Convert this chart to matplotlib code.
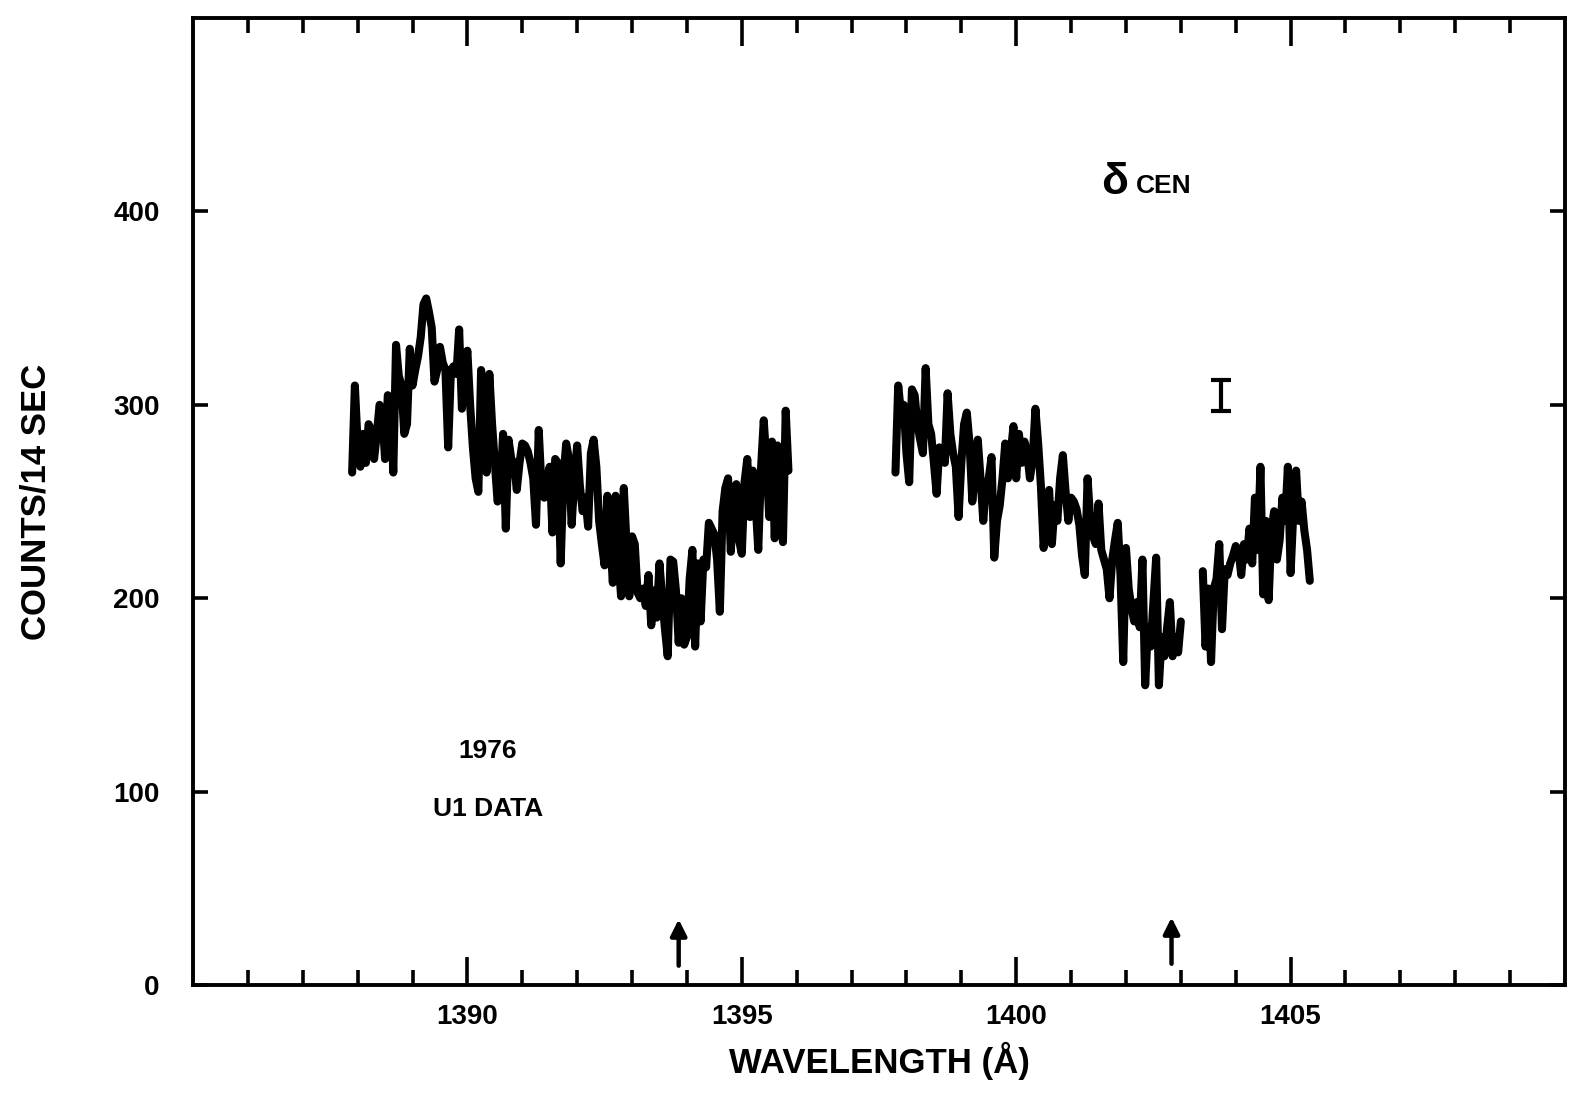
import matplotlib
matplotlib.use("Agg")
import matplotlib.pyplot as plt
import numpy as np

plt.rcParams["font.family"] = ["Liberation Sans", "DejaVu Sans"]

# --- spectrum data (counts per 14 s), sampled every 0.05 A ---
step = 0.05

seg1_start = 1387.90
seg1_counts = [
    265, 310, 280, 268, 285, 270, 290, 287, 272, 285,
    300, 295, 272, 305, 300, 265, 331, 315, 310, 285,
    290, 329, 310, 318, 325, 335, 352, 355, 348, 340,
    312, 318, 330, 322, 318, 278, 318, 320, 316, 339,
    298, 318, 328, 300, 278, 262, 255, 318, 295, 265,
    316, 290, 270, 250, 255, 285, 236, 282, 272, 270,
    256, 270, 280, 279, 276, 270, 262, 238, 287, 258,
    252, 262, 268, 234, 272, 270, 218, 262, 280, 272,
    238, 262, 279, 258, 245, 252, 237, 275, 282, 268,
    240, 228, 217, 253, 232, 208, 253, 222, 201, 257,
    228, 201, 232, 228, 203, 200, 205, 196, 212, 186,
    204, 190, 218, 200, 184, 170, 220, 219, 204, 177,
    200, 176, 180, 210, 225, 175, 218, 188, 220, 216,
    239, 236, 233, 220, 193, 245, 257, 262, 224, 255,
    259, 230, 223, 260, 272, 242, 266, 250, 225, 267,
    292, 270, 242, 281, 231, 279, 262, 229, 297, 266,
]

seg2_start = 1397.80
seg2_counts = [
    265, 310, 296, 300, 275, 260, 308, 305, 290, 282,
    275, 319, 290, 285, 270, 254, 278, 276, 270, 306,
    285, 275, 268, 242, 270, 290, 296, 280, 250, 265,
    282, 262, 240, 258, 262, 273, 221, 240, 248, 262,
    280, 262, 275, 289, 262, 285, 270, 281, 275, 262,
    272, 298, 280, 258, 226, 245, 256, 228, 248, 240,
    262, 274, 255, 240, 252, 250, 246, 238, 222, 212,
    262, 240, 232, 228, 249, 225, 220, 215, 200, 220,
    230, 239, 212, 167, 226, 205, 195, 188, 198, 185,
    220, 155, 185, 175, 198, 221, 155, 180, 170, 185,
    198, 170, 180, 172, 188,
]

seg3_start = 1403.40
seg3_counts = [
    214, 175, 205, 167, 205, 210, 228, 184, 215, 212,
    218, 222, 227, 225, 212, 228, 220, 236, 218, 252,
    225, 268, 202, 240, 199, 235, 245, 220, 230, 252,
    240, 268, 213, 245, 266, 240, 250, 235, 225, 209,
]

# marked line positions (arrows) and annotations
arrow_waves = [1393.85, 1402.83]
arrow_y0 = [10, 11]
arrow_y1 = [34, 35]
err_wave, err_center, err_half = 1403.74, 305, 8

xticks_major = [1390, 1395, 1400, 1405]
yticks = [0, 100, 200, 300, 400]


def draw_spectrum(ax):
    for start, counts in [(seg1_start, seg1_counts),
                          (seg2_start, seg2_counts),
                          (seg3_start, seg3_counts)]:
        wave = start + step * np.arange(len(counts))
        ax.plot(wave, counts, color="black", lw=5.8, solid_joinstyle="round",
                solid_capstyle="round")

    # arrows marking line positions
    for xw, y0, y1 in zip(arrow_waves, arrow_y0, arrow_y1):
        ax.annotate("", xy=(xw, y1), xytext=(xw, y0),
                    arrowprops=dict(arrowstyle="-|>", color="black", lw=3.2,
                                    mutation_scale=24, shrinkA=0, shrinkB=0))

    # typical error bar
    ax.errorbar([err_wave], [err_center], yerr=[err_half], fmt="none",
                ecolor="black", elinewidth=3, capsize=7, capthick=3)

    ax.text(1401.55, 415, "δ", fontsize=32, fontweight="bold", va="center")
    ax.text(1402.18, 413, "CEN", fontsize=19, fontweight="bold", va="center")
    ax.text(1390.37, 121, "1976", fontsize=19, fontweight="bold", ha="center", va="center")
    ax.text(1390.37, 91, "U1 DATA", fontsize=19, fontweight="bold", ha="center", va="center")

    # --- axes styling ---
    ax.set_xlim(1385, 1410)
    ax.set_ylim(0, 500)
    ax.set_xticks(xticks_major)
    ax.set_xticks(np.arange(1386, 1410), minor=True)
    ax.set_yticks(yticks)
    ax.tick_params(axis="x", which="both", direction="in", top=True, bottom=True,
                   width=2.6, labelsize=20, pad=14)
    ax.tick_params(axis="x", which="major", length=20)
    ax.tick_params(axis="x", which="minor", length=11)
    ax.tick_params(axis="y", which="major", direction="in", left=True, right=True,
                   length=11, width=2.6, labelsize=20, pad=24)
    for lab in ax.get_xticklabels() + ax.get_yticklabels():
        lab.set_fontweight("bold")
    for sp in ax.spines.values():
        sp.set_linewidth(2.8)

    ax.set_xlabel("WAVELENGTH (Å)", fontsize=25, fontweight="bold", labelpad=8)
    ax.set_ylabel("COUNTS/14 SEC", fontsize=25, fontweight="bold", labelpad=44)


fig = plt.figure(figsize=(15.74, 10.94), dpi=100)
ax = fig.add_axes([0.1226, 0.0996, 0.8717, 0.8839])
draw_spectrum(ax)
fig.savefig("out.png", dpi=100)
